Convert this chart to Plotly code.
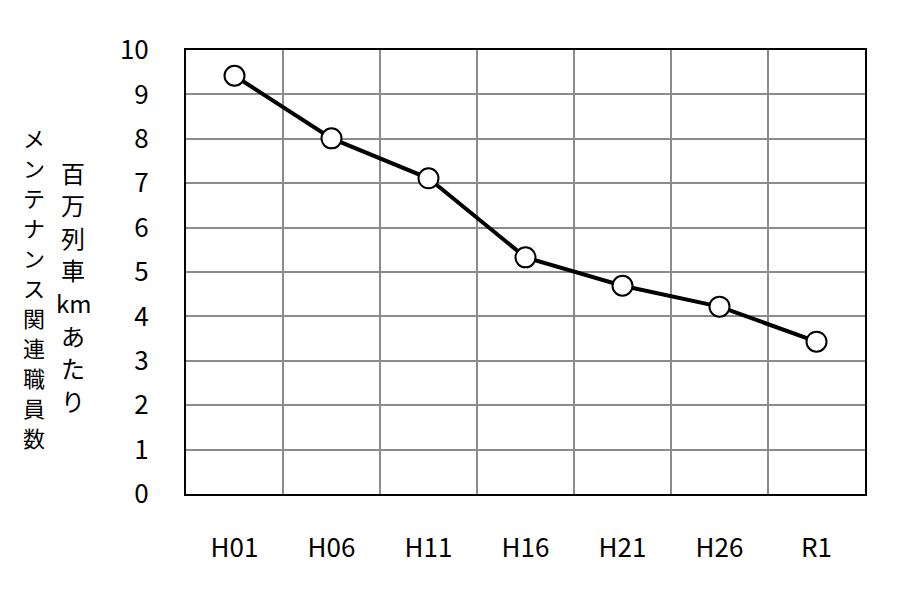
import plotly.graph_objects as go

categories = ["H01", "H06", "H11", "H16", "H21", "H26", "R1"]
values = [9.42, 8.01, 7.11, 5.33, 4.69, 4.22, 3.43]
y_ticks = list(range(0, 11))
title_outer = ["メ", "ン", "テ", "ナ", "ン", "ス", "関", "連", "職", "員", "数"]
title_inner = ["百", "万", "列", "車", "km", "あ", "た", "り"]

FONT = "Noto Sans CJK JP"
L, R, T, B = 186, 35, 50, 106
PW, PH = 900 - L - R, 600 - T - B

fig = go.Figure()
fig.add_trace(go.Scatter(
    x=categories, y=values, mode="lines+markers",
    line=dict(color="black", width=4),
    marker=dict(size=20, color="white", line=dict(color="black", width=2)),
    showlegend=False, cliponaxis=False,
))

fig.update_layout(
    width=900, height=600,
    margin=dict(l=L, r=R, t=T, b=B),
    paper_bgcolor="white", plot_bgcolor="white",
    font=dict(family=FONT, color="black", size=26),
    xaxis=dict(
        type="category", tickson="boundaries", range=[-0.5, 6.5],
        showgrid=True, gridcolor="#8c8c8c", gridwidth=2,
        showline=True, linecolor="black", linewidth=2, mirror=True,
        ticks="", ticklabelstandoff=30,
        tickfont=dict(family=FONT, size=26),
    ),
    yaxis=dict(
        range=[0, 10], tickvals=y_ticks, ticktext=[str(v) for v in y_ticks],
        showgrid=True, gridcolor="#8c8c8c", gridwidth=2,
        showline=True, linecolor="black", linewidth=2, mirror=True,
        ticks="", ticklabelstandoff=30, zeroline=False,
        tickfont=dict(family=FONT, size=26),
    ),
)

def px_x(x):
    return (x - L) / PW

def px_y(y):
    return 1 - (y - T) / PH

for i, ch in enumerate(title_outer):
    fig.add_annotation(
        text=ch, xref="paper", yref="paper",
        x=px_x(34), y=px_y(137 + i * 30), xanchor="center", yanchor="middle",
        showarrow=False, font=dict(family=FONT, size=22),
    )
for i, ch in enumerate(title_inner):
    fig.add_annotation(
        text=ch, xref="paper", yref="paper",
        x=px_x(73), y=px_y(172 + i * 32.6), xanchor="center", yanchor="middle",
        showarrow=False, font=dict(family=FONT, size=24),
    )

fig.write_html("out.html")
